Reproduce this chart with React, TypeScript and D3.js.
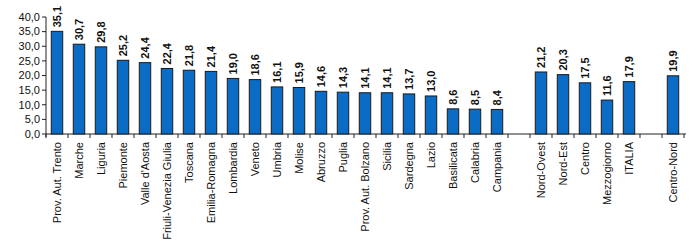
import React, { useEffect, useRef } from 'react';
import * as d3 from 'd3';

// categories (empty strings are the gaps between groups)
const categories = [
  'Prov. Aut. Trento', 'Marche', 'Liguria', 'Piemonte', "Valle d'Aosta", 'Friuli-Venezia Giulia',
  'Toscana', 'Emilia-Romagna', 'Lombardia', 'Veneto', 'Umbria', 'Molise', 'Abruzzo', 'Puglia',
  'Prov. Aut. Bolzano', 'Sicilia', 'Sardegna', 'Lazio', 'Basilicata', 'Calabria', 'Campania',
  '', 'Nord-Ovest', 'Nord-Est', 'Centro', 'Mezzogiorno', 'ITALIA', '', 'Centro-Nord',
];
const values: (number | null)[] = [
  35.1, 30.7, 29.8, 25.2, 24.4, 22.4, 21.8, 21.4, 19.0, 18.6, 16.1, 15.9, 14.6, 14.3,
  14.1, 14.1, 13.7, 13.0, 8.6, 8.5, 8.4,
  null, 21.2, 20.3, 17.5, 11.6, 17.9, null, 19.9,
];
const yTicks = [0, 5, 10, 15, 20, 25, 30, 35, 40];

const fmt = (v: number) => v.toFixed(1).replace('.', ',');

const App: React.FC = () => {
  const ref = useRef<SVGSVGElement | null>(null);

  useEffect(() => {
    document.body.style.margin = '0';
    const svg = d3.select(ref.current);
    svg.selectAll('*').remove();

    const left = 46, right = 684, top = 17, bottom = 134;
    const font = 'Liberation Sans, Arial, sans-serif';

    const x = d3.scaleBand<number>()
      .domain(categories.map((_, i) => i))
      .range([left, right])
      .paddingInner(0.48)
      .paddingOuter(0.24);
    const step = x.step();
    const y = d3.scaleLinear().domain([0, 40]).range([bottom, top]);

    // y axis
    const yAxis = svg.append('g').attr('transform', `translate(${left},0)`);
    yAxis.append('line').attr('x1', 0).attr('x2', 0).attr('y1', y(40)).attr('y2', bottom + 3)
      .attr('stroke', '#222').attr('stroke-width', 1);
    yTicks.forEach(t => {
      yAxis.append('line').attr('x1', -4).attr('x2', 0).attr('y1', y(t)).attr('y2', y(t))
        .attr('stroke', '#222');
      yAxis.append('text').attr('x', -6).attr('y', y(t)).attr('dy', '0.35em')
        .attr('text-anchor', 'end').attr('font-family', font).attr('font-size', 11)
        .attr('fill', '#111').text(fmt(t));
    });

    // x axis
    const xStart = x(0)! - x.step() * x.paddingOuter() + (x.step() - x.bandwidth()) / 2 - (x.step() - x.bandwidth()) / 2;
    const xAxis = svg.append('g');
    xAxis.append('line').attr('x1', left).attr('x2', left + step * categories.length + 2)
      .attr('y1', bottom).attr('y2', bottom).attr('stroke', '#222');
    d3.range(categories.length + 1).forEach(i => {
      const px = xStart + i * step;
      xAxis.append('line').attr('x1', px).attr('x2', px).attr('y1', bottom).attr('y2', bottom + 4)
        .attr('stroke', '#222');
    });

    // bars
    categories.forEach((c, i) => {
      const v = values[i];
      const cx = x(i)! + x.bandwidth() / 2;
      if (v !== null) {
        svg.append('rect')
          .attr('x', x(i)!)
          .attr('y', y(v))
          .attr('width', x.bandwidth())
          .attr('height', bottom - y(v))
          .attr('fill', '#0a6cc4')
          .attr('stroke', '#1a1a1a')
          .attr('stroke-width', 1);
        svg.append('text')
          .attr('transform', `translate(${cx},${y(v) - 4}) rotate(-90)`)
          .attr('dy', '0.35em')
          .attr('font-family', font).attr('font-size', 11).attr('font-weight', 'bold')
          .attr('fill', '#111')
          .text(fmt(v));
      }
      if (c) {
        svg.append('text')
          .attr('transform', `translate(${cx},${bottom + 8}) rotate(-90)`)
          .attr('dy', '0.35em')
          .attr('text-anchor', 'end')
          .attr('font-family', font).attr('font-size', 11)
          .attr('fill', '#111')
          .text(c);
      }
    });
  }, []);

  return <svg ref={ref} width={700} height={246} style={{ display: 'block', background: '#fff' }} />;
};

export default App;
